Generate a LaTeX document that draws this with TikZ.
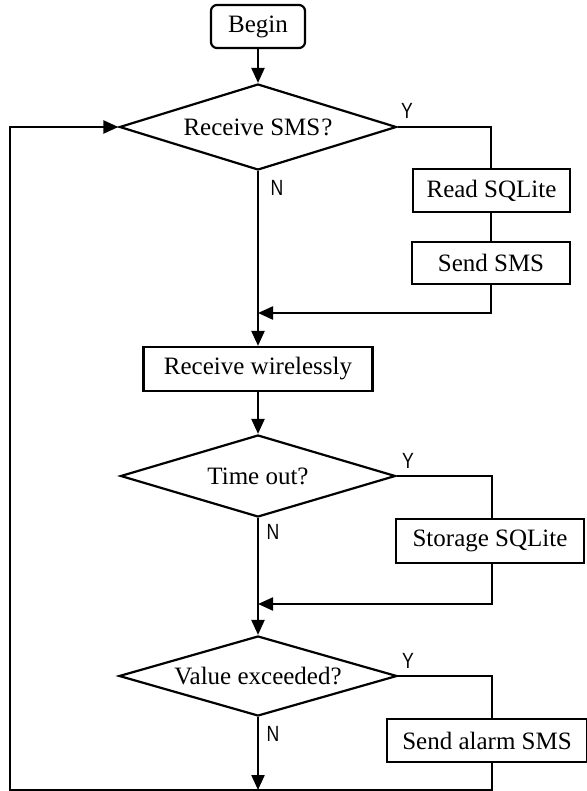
\documentclass[tikz,border=0pt]{standalone}
\usepackage{fontspec}
\setmainfont{Liberation Serif}
\newfontfamily\lblfont[FakeStretch=0.8]{Liberation Sans}
\usetikzlibrary{shapes.geometric,arrows.meta}
\begin{document}
\begin{tikzpicture}[x=1pt,y=-1pt,
  line width=2.2pt,
  every node/.style={font=\fontsize{25}{30}\selectfont},
  procbox/.style={draw,rectangle,inner sep=0pt,line width=2.2pt},
  startbox/.style={draw,rectangle,rounded corners=6pt,inner sep=0pt,line width=2.2pt},
  decision/.style={draw,diamond,inner sep=0pt,line width=2.2pt},
  yn/.style={font=\lblfont\fontsize{22}{24}\selectfont,inner sep=0pt},
  arr/.style={-{Triangle[length=15pt,width=13pt]}},
]
\useasboundingbox (0,0) rectangle (586,791);

\node[startbox,minimum width=94pt,minimum height=43pt] (begin) at (258,26.5) {Begin};
\node[decision,minimum width=277pt,minimum height=86pt,aspect=3.2] (d1) at (258,127) {Receive SMS\kern1pt?};
\node[procbox,minimum width=157pt,minimum height=43pt] (read) at (491.5,190.5) {Read SQLite};
\node[procbox,minimum width=158pt,minimum height=42pt] (send) at (491,263) {Send SMS};
\node[procbox,minimum width=229pt,minimum height=44pt] (rw) at (258,369) {Receive wirelessly};
\node[decision,minimum width=275pt,minimum height=82pt,aspect=3.3] (d2) at (258,476) {Time out?};
\node[procbox,minimum width=188pt,minimum height=44pt] (store) at (490,541) {Storage SQLite};
\node[decision,minimum width=278pt,minimum height=80pt,aspect=3.4] (d3) at (258,676) {Value exceeded?};
\node[procbox,minimum width=200pt,minimum height=43pt] (alarm) at (487,740.5) {Send alarm SMS};

\node[yn] (y1) at (407,111) {Y};
\node[yn] (n1) at (277,188) {N};
\node[yn] (y2) at (408,461) {Y};
\node[yn] (n2) at (273,532) {N};
\node[yn] (y3) at (408,661) {Y};
\node[yn] (n3) at (273,734) {N};

\coordinate (m1) at (258,313);
\coordinate (m2) at (258,604);
\coordinate (bot) at (258,790);
\coordinate (bl) at (10,790);

% main flow
\draw[arr] (begin.south) -- (d1.north);
\draw[arr] (d1.south) -- (rw.north);
\draw[arr] (rw.south) -- (d2.north);
\draw[arr] (d2.south) -- (d3.north);
\draw[arr] (d3.south) -- (bot);

% branch 1
\draw (d1.east) -| (read.north -| 491,0) ;
\draw (read.south -| 491,0) -- (send.north -| 491,0);
\draw[arr] (send.south -| 491,0) |- (m1);

% branch 2
\draw (d2.east) -| (store.north -| 492,0);
\draw[arr] (store.south -| 492,0) |- (m2);

% branch 3 and loop back
\draw (d3.east) -| (alarm.north -| 492,0);
\draw[arr] (alarm.south -| 492,0) |- (bl) |- (d1.west);
\end{tikzpicture}
\end{document}
